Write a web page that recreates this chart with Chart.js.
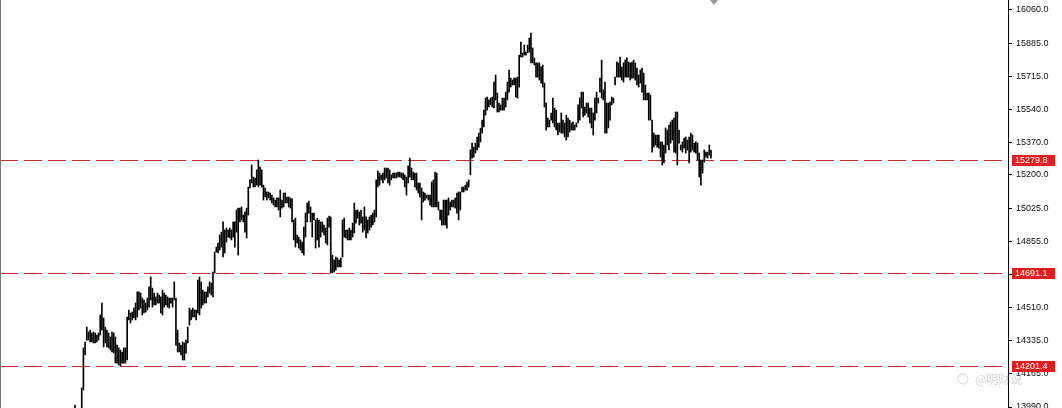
<!DOCTYPE html>
<html>
<head>
<meta charset="utf-8">
<script src="https://cdn.jsdelivr.net/npm/chart.js@4.4.1/dist/chart.umd.min.js"></script>
<style>
  html, body { margin: 0; padding: 0; background: #fff; }
</style>
</head>
<body>
<canvas id="chart" width="1062" height="408"></canvas>
<script>
// bar highs and lows, oldest first (first few bars sit below the visible range)
const highs = [
  14000, 13975, 13970, 13982, 14089, 14298, 14329, 14407, 14381, 14391, 14376, 14381,
  14376, 14365, 14376, 14470, 14532, 14454, 14407, 14391, 14376, 14355, 14381, 14376,
  14355, 14313, 14298, 14287, 14277, 14298, 14298, 14459, 14496, 14480, 14485, 14506,
  14532, 14590, 14590, 14584, 14558, 14548, 14532, 14558, 14616, 14668, 14610, 14584,
  14564, 14584, 14574, 14564, 14600, 14584, 14574, 14564, 14558, 14558, 14558, 14642,
  14558, 14391, 14324, 14313, 14329, 14324, 14339, 14407, 14506, 14496, 14506, 14496,
  14496, 14652, 14668, 14642, 14600, 14590, 14590, 14616, 14642, 14636, 14694, 14798,
  14824, 14845, 14887, 14902, 14955, 14913, 14923, 14913, 14923, 14913, 14955, 14955,
  15017, 15027, 15027, 15033, 14991, 15007, 15027, 15137, 15174, 15252, 15189, 15184,
  15226, 15278, 15241, 15226, 15147, 15132, 15111, 15111, 15106, 15095, 15080, 15069,
  15080, 15080, 15121, 15069,
  15106, 15106, 15085, 15085, 15080, 15075, 14965, 14975, 14887, 14876, 14861, 14850,
  14928, 15001, 15054, 15064, 15033, 15001, 15001, 14965, 14975, 14965, 14955, 14955,
  14939, 14923, 14975, 14986, 14981, 14782, 14756, 14772, 14767, 14756, 14767, 14965,
  14975, 14913, 14913, 14923, 14913, 14949, 15054, 15017, 15017, 15007, 15017, 14981,
  15033, 14981, 14965, 14981, 14991, 15001, 15017, 15174, 15220, 15210, 15200, 15210,
  15236, 15236, 15236, 15226, 15200, 15210, 15210, 15210, 15215, 15215, 15210, 15210,
  15200, 15189, 15247, 15288, 15236, 15215, 15210, 15210, 15158, 15158, 15132, 15111,
  15106, 15095, 15095, 15095, 15163, 15174, 15215, 15210, 15059, 15017, 15017, 15069,
  15069, 15069, 15080, 15059, 15069, 15069, 15080, 15106, 15111, 15111, 15137, 15137,
  15147, 15163, 15174, 15330, 15366, 15345, 15366, 15398, 15418, 15444, 15486, 15538,
  15601, 15606, 15591,
  15601, 15606, 15684, 15721, 15627, 15575, 15565, 15601, 15601, 15632, 15684, 15747,
  15705, 15695, 15705, 15705, 15710, 15825, 15893, 15836, 15877, 15841, 15877, 15914,
  15940, 15862, 15810, 15784, 15784, 15784, 15763, 15773, 15679, 15575, 15497, 15486,
  15523, 15601, 15549, 15538, 15471, 15471, 15523, 15486, 15471, 15512, 15497, 15486,
  15471, 15476, 15460, 15471, 15565, 15601, 15632, 15632, 15554, 15575, 15575, 15549,
  15549, 15523, 15601, 15632, 15601, 15705, 15799, 15643, 15684, 15575, 15575, 15580,
  15606, 15601, 15710, 15789, 15784, 15815, 15763, 15784, 15799, 15810, 15789, 15784,
  15789, 15799, 15784, 15757, 15721, 15747, 15757, 15731, 15669, 15627, 15627, 15617,
  15486, 15418, 15408, 15408, 15408, 15372, 15372, 15356, 15445, 15434, 15460, 15476,
  15486, 15497, 15528, 15528, 15434, 15356, 15372, 15392, 15398, 15382, 15398, 15418,
  15408, 15366, 15372, 15366, 15314, 15278, 15278, 15330, 15319, 15319, 15356, 15330
];
const lows = [
  13960, 13930, 13925, 13940, 13975, 14079, 14261, 14339, 14339, 14329, 14329, 14324,
  14324, 14329, 14339, 14365, 14391, 14303, 14324, 14303, 14298, 14287, 14277, 14271,
  14219, 14219, 14209, 14204, 14219, 14219, 14219, 14235, 14444, 14428, 14444, 14454,
  14444, 14459, 14496, 14506, 14470, 14480, 14485, 14496, 14511, 14548, 14511, 14522,
  14522, 14532, 14532, 14480, 14470, 14511, 14522, 14511, 14506, 14532, 14511, 14548,
  14313, 14277, 14277, 14261, 14235, 14235, 14271, 14324, 14417, 14444, 14459, 14459,
  14444, 14480, 14470, 14506, 14522, 14532, 14532, 14564, 14584, 14574, 14564, 14689,
  14798, 14793, 14808, 14824, 14772, 14793, 14850, 14876, 14871, 14861, 14876, 14824,
  14902, 14782, 14955, 14965, 14955, 14902, 14871, 14991, 15132, 15158, 15137, 15137,
  15147, 15137, 15147, 15137, 15069, 15085, 15069, 15080, 15069, 15054, 15043, 15033,
  15033, 15017, 14981, 15027,
  15033, 15054, 15054, 15033, 15027, 14955, 14861, 14824, 14845, 14819, 14808, 14793,
  14782, 14876, 14955, 15001, 14955, 14876, 14965, 14819, 14861, 14824, 14876, 14902,
  14887, 14845, 14835, 14928, 14689, 14689, 14694, 14704, 14720, 14720, 14720, 14772,
  14876, 14871, 14861, 14861, 14861, 14876, 14897, 14949, 14975, 14939, 14949, 14902,
  14913, 14871, 14897, 14913, 14928, 14939, 14955, 14981, 15137, 15147, 15174, 15158,
  15174, 15184, 15158, 15147, 15174, 15184, 15184, 15184, 15189, 15189, 15184, 15174,
  15137, 15095, 15158, 15189, 15174, 15174, 15137, 15121, 15106, 15085, 14965, 15059,
  15069, 15080, 15069, 15043, 15033, 15033, 15033, 15033, 15017, 14965, 14939, 14939,
  14939, 14923, 14991, 15017, 15033, 15033, 15027, 15001, 14965, 15017, 15111, 15111,
  15121, 15121, 15137, 15200, 15288, 15293, 15314, 15330, 15345, 15372, 15418, 15450,
  15512, 15538, 15554,
  15565, 15554, 15549, 15591, 15528, 15528, 15538, 15538, 15538, 15554, 15591, 15632,
  15658, 15669, 15669, 15606, 15601, 15658, 15815, 15815, 15825, 15825, 15836, 15841,
  15784, 15784, 15773, 15710, 15710, 15695, 15679, 15658, 15554, 15434, 15450, 15450,
  15486, 15471, 15450, 15434, 15408, 15424, 15418, 15418, 15398, 15382, 15398, 15424,
  15434, 15434, 15434, 15450, 15471, 15486, 15549, 15502, 15512, 15523, 15502, 15471,
  15445, 15408, 15486, 15523, 15575, 15632, 15601, 15591, 15418, 15418, 15445, 15486,
  15565, 15575, 15669, 15710, 15710, 15710, 15695, 15684, 15710, 15710, 15710, 15695,
  15705, 15705, 15695, 15669, 15658, 15679, 15632, 15591, 15591, 15591, 15486, 15486,
  15319, 15345, 15356, 15345, 15340, 15293, 15252, 15262, 15314, 15356, 15330, 15366,
  15382, 15319, 15314, 15252, 15366, 15330, 15319, 15340, 15314, 15330, 15262, 15319,
  15330, 15319, 15314, 15278, 15189, 15147, 15210, 15267, 15293, 15288, 15304, 15288
];

// price axis ticks
const tickValues = [13990, 14165, 14335, 14510, 14680, 14855, 15025, 15200, 15370, 15540, 15715, 15885, 16060];

// marked horizontal levels
const levels = [15279.8, 14691.1, 14201.4];

const bars = highs.map((h, i) => ({ x: i, y: [lows[i], h] }));

// bars span roughly x=75..711 of a 1008px wide plot
const step = 636 / (highs.length - 1);
const xMin = -75 / step;
const xMax = xMin + 1008 / step;

const levelPlugin = {
  id: 'levelPlugin',
  beforeDatasetsDraw(chart) {
    const { ctx, chartArea, scales: { y } } = chart;
    ctx.save();
    ctx.strokeStyle = '#cc2f2a';
    ctx.lineWidth = 1;
    ctx.setLineDash([18, 6]);
    levels.forEach(v => {
      const py = Math.round(y.getPixelForValue(v)) + 0.5;
      ctx.beginPath();
      ctx.moveTo(chartArea.left, py);
      ctx.lineTo(chartArea.right, py);
      ctx.stroke();
    });
    ctx.restore();
  },
  afterDraw(chart) {
    const { ctx, chartArea, scales: { x, y } } = chart;
    ctx.save();
    // left frame line
    ctx.strokeStyle = '#777';
    ctx.beginPath();
    ctx.moveTo(0.5, 0);
    ctx.lineTo(0.5, chartArea.bottom);
    ctx.stroke();

    // chart shift marker
    const mx = x.getPixelForValue(highs.length - 1) + 3;
    ctx.fillStyle = '#9a9a9a';
    ctx.beginPath();
    ctx.moveTo(mx - 4, 0);
    ctx.lineTo(mx + 4, 0);
    ctx.lineTo(mx, 5);
    ctx.closePath();
    ctx.fill();

    // watermark
    ctx.fillStyle = 'rgba(150,150,150,0.4)';
    ctx.font = '12px "Noto Sans CJK SC"';
    ctx.textBaseline = 'middle';
    ctx.fillText('@明财说', 975, 379);
    ctx.strokeStyle = 'rgba(150,150,150,0.4)';
    ctx.beginPath();
    ctx.arc(963, 379, 5, 0, Math.PI * 2);
    ctx.stroke();

    // level price labels
    ctx.font = '9px "Liberation Sans"';
    levels.forEach(v => {
      const py = Math.round(y.getPixelForValue(v));
      ctx.fillStyle = '#e11d1d';
      ctx.fillRect(chartArea.right + 4, py - 5, 43, 11);
      ctx.fillStyle = '#fff';
      ctx.fillText(v.toFixed(1), chartArea.right + 7, py + 0.5);
    });
    ctx.restore();
  }
};

new Chart(document.getElementById('chart'), {
  type: 'bar',
  data: {
    datasets: [{
      data: bars,
      backgroundColor: '#000',
      barThickness: 1,
      borderWidth: 0
    }]
  },
  options: {
    responsive: false,
    animation: false,
    layout: { padding: 0 },
    plugins: { legend: { display: false }, tooltip: { enabled: false } },
    scales: {
      x: {
        type: 'linear',
        min: xMin,
        max: xMax,
        offset: false,
        display: false
      },
      y: {
        position: 'right',
        min: 13984.8,
        max: 16112.1,
        afterBuildTicks: s => { s.ticks = tickValues.map(v => ({ value: v })); },
        afterFit: s => { s.width = 54; s.paddingTop = 0; s.paddingBottom = 0; },
        ticks: {
          callback: v => v.toFixed(1),
          font: { family: 'Liberation Sans', size: 9 },
          color: '#111',
          padding: 4,
          autoSkip: false
        },
        grid: { drawOnChartArea: false, tickLength: 4, color: '#000' },
        border: { color: '#000' }
      }
    }
  },
  plugins: [levelPlugin]
});
</script>
</body>
</html>
